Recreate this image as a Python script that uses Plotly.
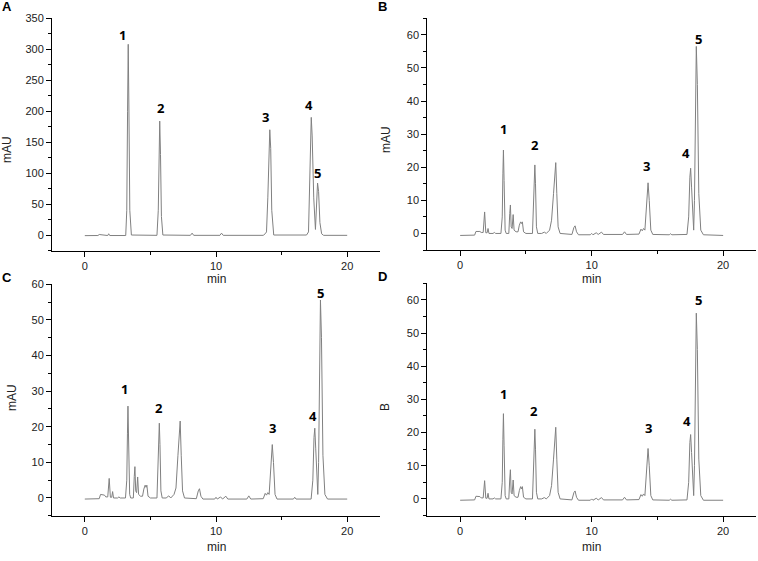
import plotly.graph_objects as go

# ---------------- data ----------------
time_A = [0, 1.0, 1.1, 1.3, 1.45, 1.75, 1.82, 1.9,
          3.12, 3.2, 3.26, 3.31, 3.36, 3.43, 3.55,
          5.5, 5.6, 5.66, 5.71, 5.77, 5.84, 5.95,
          8.05, 8.18, 8.3, 10.3, 10.42, 10.55,
          13.6, 13.75, 13.85, 13.95, 14.03, 14.1, 14.17, 14.25, 14.4,
          16.9, 17.05, 17.13, 17.2, 17.26, 17.33, 17.45, 17.58, 17.66, 17.74, 17.82, 17.92, 18.05, 18.2,
          20]
mAU_A = [-1, -0.8, 0.8, 0.5, -0.8, -0.8, 2, -0.8,
         -0.8, 40, 200, 308, 210, 40, 0,
         -0.5, 40, 140, 184, 130, 30, 0,
         -0.5, 3, -0.5, -0.5, 3, -0.5,
         -0.5, 2, 5, 60, 150, 170, 140, 40, 0,
         0, 5, 80, 170, 190, 160, 60, 9, 55, 84, 70, 20, 2, -0.5,
         -0.5]

time_BCD = [0, 1.1, 1.2, 1.5, 1.6, 1.75, 1.86, 1.95, 2.05, 2.12, 2.19, 2.5, 2.6, 2.7,
            3.1, 3.2, 3.25, 3.29, 3.34, 3.42, 3.5,
            3.7, 3.77, 3.82, 3.88, 3.95, 4.03, 4.1, 4.25, 4.4, 4.5, 4.6, 4.67, 4.73, 4.82, 5.0,
            5.5, 5.58, 5.64, 5.68, 5.73, 5.8, 5.9,
            6.2, 6.4, 6.55, 6.8, 6.95, 7.1, 7.22, 7.27, 7.35, 7.45, 7.6,
            8.5, 8.65, 8.74, 8.85, 9.0,
            9.9, 10.0, 10.1, 10.35, 10.5, 10.75, 10.9, 12.35, 12.5, 12.65,
            13.6, 13.75, 13.85, 13.95, 14.05, 14.15, 14.29, 14.38, 14.5, 14.65,
            15.9, 16.0, 16.1,
            17.25, 17.38, 17.47, 17.53, 17.6, 17.7, 17.76, 17.82, 17.9, 17.96, 18.04, 18.15, 18.3, 18.5,
            20]
mAU_B = [-0.6, -0.5, 0.6, 0.6, 0.3, 0.3, 6.5, 0.2, 0.2, 1.5, 0, 0, 0.3, 0,
         0, 5, 18, 25.2, 16, 1, 0,
         0, 6, 8.6, 2, 1.5, 5.7, 1, 0.5, 0.5, 2.5, 3.5, 3, 3.5, 0.5, 0,
         0, 8, 18, 20.7, 15, 2, 0,
         0, 0.4, 0, 1, 4, 12, 21, 21.4, 12, 2, 0,
         -0.3, 1.8, 2.3, 0.5, -0.4,
         -0.4, 0, -0.4, 0.2, -0.3, 0.4, -0.3, -0.3, 0.5, -0.3,
         -0.2, 1.3, 0.8, 1.5, 1.0, 8, 15.3, 10, 1, -0.3,
         -0.4, -0.1, -0.4,
         -0.3, 5, 17, 19.7, 14, 2, 1, 10, 45, 56.5, 45, 12, 1, -0.4,
         -0.6]
mAU_C = [-0.3, -0.2, 1.0, 0.8, 0.3, 0.3, 5.5, 0.2, 0.2, 1.8, 0, 0, 0.3, 0,
         0, 5, 18, 25.8, 16, 1, 0,
         0, 6, 8.8, 2, 1.5, 5.9, 1, 0.5, 0.5, 2.5, 3.6, 3, 3.6, 0.5, 0,
         0, 8, 18, 21, 15, 2, 0,
         0, 0.6, 0, 1, 2.8, 12, 21.2, 21.6, 12, 2, 0,
         -0.2, 2.0, 2.6, 0.5, -0.3,
         -0.3, 0.2, -0.3, 0.3, -0.3, 0.5, -0.3, -0.3, 0.6, -0.3,
         -0.2, 1.3, 0.8, 1.5, 1.0, 8, 15, 10, 1, -0.3,
         -0.3, 0.2, -0.3,
         -0.3, 5, 17, 19.6, 14, 2, 1, 10, 45, 55.6, 45, 12, 1, -0.3,
         -0.3]
mAU_D = [-0.4, -0.3, 0.8, 0.7, 0.3, 0.3, 5.5, 0.2, 0.2, 1.7, 0, 0, 0.3, 0,
         0, 5, 18, 25.7, 16, 1, 0,
         0, 6, 8.8, 2, 1.5, 5.7, 1, 0.5, 0.5, 2.5, 3.7, 3, 3.7, 0.5, 0,
         0, 8, 18, 21, 15, 2, 0,
         0, 0.4, 0, 1, 4, 12, 21.2, 21.6, 12, 2, 0,
         -0.3, 1.9, 2.4, 0.5, -0.4,
         -0.4, 0, -0.4, 0.2, -0.3, 0.4, -0.3, -0.3, 0.5, -0.3,
         -0.2, 1.3, 0.8, 1.5, 1.0, 8, 15.2, 10, 1, -0.3,
         -0.4, -0.1, -0.4,
         -0.3, 5, 17, 19.4, 14, 2, 1, 10, 45, 56, 45, 12, 1, -0.4,
         -0.4]

peak_labels = ["1", "2", "3", "4", "5"]
label_x_A = [2.85, 5.82, 13.76, 17.12, 17.73]
label_y_A = [323, 205, 190, 210, 100]
label_x_B = [3.32, 5.69, 14.2, 17.15, 18.1]
label_y_B = [31.5, 26.7, 20.5, 24.2, 58.7]
label_x_C = [3.0, 5.67, 14.3, 17.4, 18.0]
label_y_C = [30.6, 25.2, 19.6, 23.1, 57.5]
label_x_D = [3.32, 5.63, 14.3, 17.23, 18.1]
label_y_D = [31.7, 26.4, 21.4, 23.4, 59.9]

panel_letters = ["A", "B", "C", "D"]
y_titles = ["mAU", "mAU", "mAU", "B"]

# ---------------- figure ----------------
W, H = 758, 561
LINE = "#808080"

panels = [
    dict(t=time_A, y=mAU_A, lx=label_x_A, ly=label_y_A, xd=(52, 380), yd=(18.3, 250.5), yr=[-25, 350], dt=50),
    dict(t=time_BCD, y=mAU_B, lx=label_x_B, ly=label_y_B, xd=(427.3, 756), yd=(18.3, 250), yr=[-5, 65], dt=10),
    dict(t=time_BCD, y=mAU_C, lx=label_x_C, ly=label_y_C, xd=(52, 380), yd=(284.3, 515.8), yr=[-5, 60], dt=10),
    dict(t=time_BCD, y=mAU_D, lx=label_x_D, ly=label_y_D, xd=(427.3, 756), yd=(283.3, 515.5), yr=[-5, 65], dt=10),
]

fig = go.Figure()
layout = dict(
    width=W, height=H, margin=dict(l=0, r=0, t=0, b=0),
    paper_bgcolor="white", plot_bgcolor="white", showlegend=False,
    font=dict(family="Liberation Sans, Arial, sans-serif", color="#222222"),
)
annotations = []

ytitle_pos = [(7, 150), (386, 140), (12, 398), (385, 407)]
xtitle_y = [279, 279, 547, 547]
letter_pos = [(7, 7), (382, 7), (7, 277), (382, 276)]

for i, p in enumerate(panels):
    n = "" if i == 0 else str(i + 1)
    xa, ya = "x" + n, "y" + n
    fig.add_trace(go.Scatter(x=p["t"], y=p["y"], mode="lines",
                             line=dict(color=LINE, width=1), xaxis=xa, yaxis=ya,
                             hoverinfo="skip"))
    common = dict(showline=True, linecolor="black", linewidth=1, ticks="outside",
                  ticklen=5, tickwidth=1, tickcolor="black", showgrid=False, zeroline=False,
                  automargin=False, tickfont=dict(size=11, color="#222222"))
    layout["xaxis" + n] = dict(domain=[p["xd"][0] / W, p["xd"][1] / W], range=[-2.5, 22.5],
                               tickvals=[0, 10, 20], anchor=ya,
                               minor=dict(tickvals=[5, 15], ticks="outside", ticklen=3,
                                          tickcolor="black", showgrid=False),
                               **common)
    layout["yaxis" + n] = dict(domain=[1 - p["yd"][1] / H, 1 - p["yd"][0] / H], range=p["yr"],
                               dtick=p["dt"], tick0=0, anchor=xa,
                               minor=dict(dtick=p["dt"] / 2, tick0=0, ticks="outside", ticklen=3,
                                          tickcolor="black", showgrid=False),
                               **common)
    for lab, lx, ly in zip(peak_labels, p["lx"], p["ly"]):
        annotations.append(dict(x=lx, y=ly, xref=xa, yref=ya, text="<b>" + lab + "</b>", showarrow=False,
                                font=dict(size=13, color="black",
                                          family="Open Sans, Liberation Sans, sans-serif"),
                                xanchor="center", yanchor="middle"))
    annotations.append(dict(x=10, y=1 - xtitle_y[i] / H, xref=xa, yref="paper", text="min",
                            showarrow=False, font=dict(size=12, color="#222222"),
                            xanchor="center", yanchor="middle"))
    annotations.append(dict(x=ytitle_pos[i][0] / W, y=1 - ytitle_pos[i][1] / H, xref="paper",
                            yref="paper", text=y_titles[i], textangle=-90, showarrow=False,
                            font=dict(size=12, color="#222222"), xanchor="center", yanchor="middle"))
    annotations.append(dict(x=letter_pos[i][0] / W, y=1 - letter_pos[i][1] / H, xref="paper",
                            yref="paper", text="<b>" + panel_letters[i] + "</b>", showarrow=False,
                            font=dict(size=13, color="black"), xanchor="center", yanchor="middle"))

layout["annotations"] = annotations
fig.update_layout(**layout)
fig.write_html("out.html", config={"displayModeBar": False},
               post_script="document.body.style.margin='0';document.body.style.overflow='hidden';")
